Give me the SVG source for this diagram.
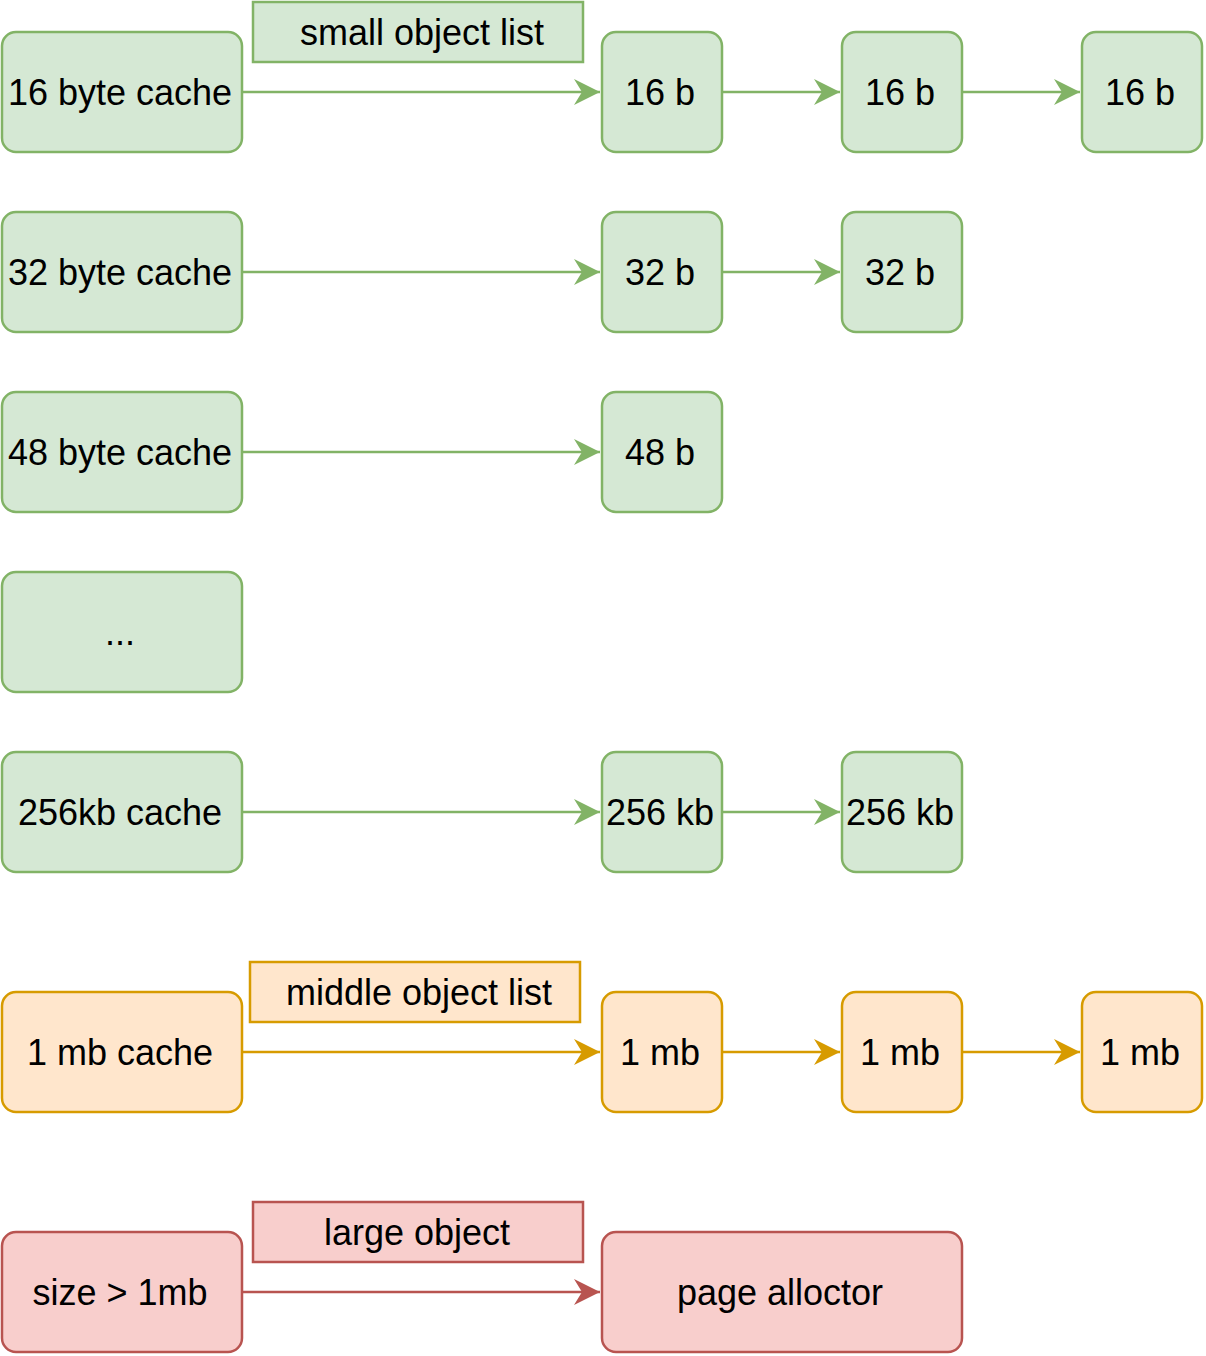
<svg xmlns="http://www.w3.org/2000/svg" width="1206" height="1356" viewBox="0 0 1206 1356">
<style>
text{font-family:"Liberation Sans",Arial,sans-serif;font-size:36px;fill:#000;text-anchor:middle}
.g{fill:#d5e8d4;stroke:#82b366;stroke-width:2.5}
.o{fill:#ffe6cc;stroke:#d79b00;stroke-width:2.5}
.r{fill:#f8cecc;stroke:#b85450;stroke-width:2.5}
.lg{stroke:#82b366;stroke-width:2.5;fill:none}
.lo{stroke:#d79b00;stroke-width:2.5;fill:none}
.lr{stroke:#b85450;stroke-width:2.5;fill:none}
</style>
<defs>
<marker id="ag" markerUnits="userSpaceOnUse" markerWidth="28" markerHeight="30" refX="26" refY="14" orient="auto"><path d="M26,14 L0,1 L8,14 L0,27 Z" fill="#82b366"/></marker>
<marker id="ao" markerUnits="userSpaceOnUse" markerWidth="28" markerHeight="30" refX="26" refY="14" orient="auto"><path d="M26,14 L0,1 L8,14 L0,27 Z" fill="#d79b00"/></marker>
<marker id="ar" markerUnits="userSpaceOnUse" markerWidth="28" markerHeight="30" refX="26" refY="14" orient="auto"><path d="M26,14 L0,1 L8,14 L0,27 Z" fill="#b85450"/></marker>
</defs>
<g id="connectors">
<line class="lg" x1="242" y1="92" x2="600" y2="92" marker-end="url(#ag)"/>
<line class="lg" x1="722" y1="92" x2="840" y2="92" marker-end="url(#ag)"/>
<line class="lg" x1="962" y1="92" x2="1080" y2="92" marker-end="url(#ag)"/>
<line class="lg" x1="242" y1="272" x2="600" y2="272" marker-end="url(#ag)"/>
<line class="lg" x1="722" y1="272" x2="840" y2="272" marker-end="url(#ag)"/>
<line class="lg" x1="242" y1="452" x2="600" y2="452" marker-end="url(#ag)"/>
<line class="lg" x1="242" y1="812" x2="600" y2="812" marker-end="url(#ag)"/>
<line class="lg" x1="722" y1="812" x2="840" y2="812" marker-end="url(#ag)"/>
<line class="lo" x1="242" y1="1052" x2="600" y2="1052" marker-end="url(#ao)"/>
<line class="lo" x1="722" y1="1052" x2="840" y2="1052" marker-end="url(#ao)"/>
<line class="lo" x1="962" y1="1052" x2="1080" y2="1052" marker-end="url(#ao)"/>
<line class="lr" x1="242" y1="1292" x2="600" y2="1292" marker-end="url(#ar)"/>
</g>
<g id="lbl-small"><rect class="g" x="253" y="2" width="330" height="60"/><text x="422" y="45">small object list</text></g>
<g id="c16"><rect class="g" x="2" y="32" width="240" height="120" rx="14"/><text x="120" y="105">16 byte cache</text></g>
<g id="b16a"><rect class="g" x="602" y="32" width="120" height="120" rx="14"/><text x="660" y="105">16 b</text></g>
<g id="b16b"><rect class="g" x="842" y="32" width="120" height="120" rx="14"/><text x="900" y="105">16 b</text></g>
<g id="b16c"><rect class="g" x="1082" y="32" width="120" height="120" rx="14"/><text x="1140" y="105">16 b</text></g>
<g id="c32"><rect class="g" x="2" y="212" width="240" height="120" rx="14"/><text x="120" y="285">32 byte cache</text></g>
<g id="b32a"><rect class="g" x="602" y="212" width="120" height="120" rx="14"/><text x="660" y="285">32 b</text></g>
<g id="b32b"><rect class="g" x="842" y="212" width="120" height="120" rx="14"/><text x="900" y="285">32 b</text></g>
<g id="c48"><rect class="g" x="2" y="392" width="240" height="120" rx="14"/><text x="120" y="465">48 byte cache</text></g>
<g id="b48a"><rect class="g" x="602" y="392" width="120" height="120" rx="14"/><text x="660" y="465">48 b</text></g>
<g id="cdots"><rect class="g" x="2" y="572" width="240" height="120" rx="14"/><text x="120" y="645">...</text></g>
<g id="c256"><rect class="g" x="2" y="752" width="240" height="120" rx="14"/><text x="120" y="825">256kb cache</text></g>
<g id="b256a"><rect class="g" x="602" y="752" width="120" height="120" rx="14"/><text x="660" y="825">256 kb</text></g>
<g id="b256b"><rect class="g" x="842" y="752" width="120" height="120" rx="14"/><text x="900" y="825">256 kb</text></g>
<g id="lbl-middle"><rect class="o" x="250" y="962" width="330" height="60"/><text x="419" y="1005">middle object list</text></g>
<g id="c1mb"><rect class="o" x="2" y="992" width="240" height="120" rx="14"/><text x="120" y="1065">1 mb cache</text></g>
<g id="m1"><rect class="o" x="602" y="992" width="120" height="120" rx="14"/><text x="660" y="1065">1 mb</text></g>
<g id="m2"><rect class="o" x="842" y="992" width="120" height="120" rx="14"/><text x="900" y="1065">1 mb</text></g>
<g id="m3"><rect class="o" x="1082" y="992" width="120" height="120" rx="14"/><text x="1140" y="1065">1 mb</text></g>
<g id="lbl-large"><rect class="r" x="253" y="1202" width="330" height="60"/><text x="417" y="1245">large object</text></g>
<g id="large"><rect class="r" x="2" y="1232" width="240" height="120" rx="14"/><text x="120" y="1305">size &gt; 1mb</text></g>
<g id="page"><rect class="r" x="602" y="1232" width="360" height="120" rx="14"/><text x="780" y="1305">page alloctor</text></g>
</svg>
